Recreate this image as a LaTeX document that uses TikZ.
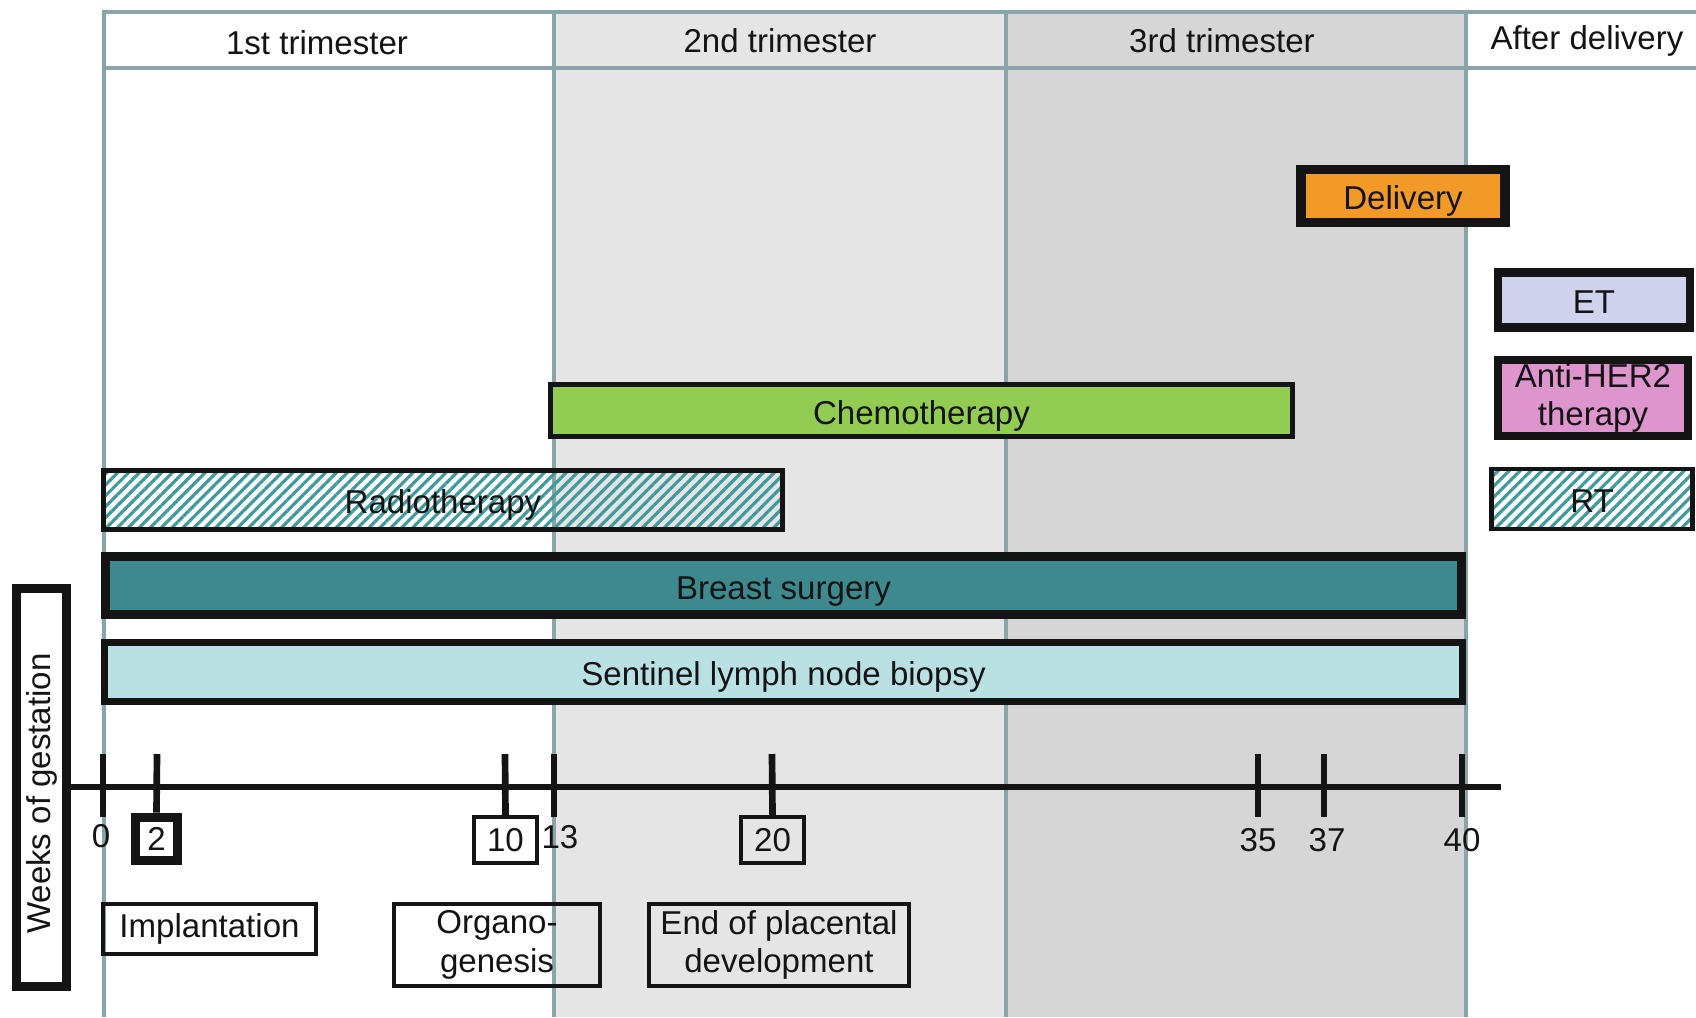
\documentclass[tikz,border=0pt]{standalone}
\usepackage{fontspec}
\setmainfont{Liberation Sans}
\usepackage{xcolor}
\usetikzlibrary{patterns.meta}

\definecolor{frame}{HTML}{8AA5A8}
\definecolor{trim2}{HTML}{E5E5E5}
\definecolor{trim3}{HTML}{D6D6D6}
\definecolor{delivery}{HTML}{F29A27}
\definecolor{etcol}{HTML}{CFD3EE}
\definecolor{her2}{HTML}{DE95CD}
\definecolor{chemo}{HTML}{93CC52}
\definecolor{surgery}{HTML}{3D898E}
\definecolor{slnb}{HTML}{B9E0E3}
\definecolor{hatch}{HTML}{3F9A9E}
\definecolor{boxline}{HTML}{141414}

\begin{document}
\begin{tikzpicture}[x=0.01cm, y=-0.01cm,
    every node/.style={font=\fontsize{9.4}{11}\selectfont, text=black!92},
    bar/.style={draw=boxline, inner sep=0pt, align=center},
    oneline/.style={text height=8.9pt, text depth=1pt},
    hatched/.style={bar, oneline, pattern={Lines[angle=45,distance=2.2pt,line width=0.9pt]}, pattern color=hatch},
    framed/.style={frame, line width=1.1pt},
    tick/.style={draw=boxline, line width=1.9pt}]
    \useasboundingbox (0,0) rectangle (1696,1017);

    % Trimester columns
    \fill[trim2] (554,12) rectangle (1006,1017);
    \fill[trim3] (1006,12) rectangle (1466,1017);
    \draw[framed] (104,1017) -- (104,12) -- (1696,12);
    \draw[framed] (104,68) -- (1696,68);
    \foreach \x in {554,1006,1466}
        \draw[framed] (\x,12) -- (\x,1017);

    % Header
    \node (tri1) at (317,43) {1st trimester};
    \node (tri2) at (780,41) {2nd trimester};
    \node (tri3) at (1222,41) {3rd trimester};
    \node (after) at (1587,41) {After delivery};

    % Delivery
    \node[bar, oneline, fill=delivery, line width=2.8pt, minimum width=2.04cm, minimum height=0.53cm] (delivery) at (1403,196) {Delivery};

    % After delivery treatments
    \node[bar, oneline, fill=etcol, line width=2.3pt, minimum width=1.92cm, minimum height=0.55cm] (et) at (1594,300) {ET};
    \node[bar, fill=her2, line width=2.3pt, minimum width=1.90cm, minimum height=0.76cm] (her2) at (1593,398) {Anti-HER2\\therapy};
    \node[hatched, line width=1.4pt, minimum width=2.00cm, minimum height=0.60cm] (rt) at (1592,499) {RT};

    % Treatments during pregnancy
    \node[bar, oneline, fill=chemo, line width=1.4pt, minimum width=7.42cm, minimum height=0.52cm] (chemo) at (921.5,410.5) {Chemotherapy};
    \node[hatched, line width=1.4pt, minimum width=6.79cm, minimum height=0.59cm] (radio) at (443,500) {Radiotherapy};
    \node[bar, oneline, fill=surgery, line width=2.6pt, minimum width=13.56cm, minimum height=0.58cm] (surgery) at (783.5,585.5) {Breast surgery};
    \node[bar, oneline, fill=slnb, line width=2pt, minimum width=13.58cm, minimum height=0.59cm] (slnb) at (783.5,672) {Sentinel lymph node biopsy};

    % Weeks axis
    \node[bar, rotate=90, line width=2.4pt, minimum width=3.98cm, minimum height=0.50cm] (weeks) at (41.5,787.5) {\hspace{-3.5pt}Weeks of gestation};
    \coordinate (axisL) at (67,787);
    \coordinate (axisR) at (1501,787);
    \draw[tick] (axisL) -- (axisR);

    \foreach \x/\wk in {103/0, 554/13, 1258/35, 1324/37, 1462/40}
        \draw[tick] (\x,754) -- (\x,817);
    \node (wk0) at (101,836) {0};
    \node (wk13) at (560,837) {13};
    \node (wk35) at (1258,840) {35};
    \node (wk37) at (1327,840) {37};
    \node (wk40) at (1462,840) {40};

    % Milestone weeks
    \node[bar, line width=2.8pt, minimum width=0.42cm, minimum height=0.43cm] (wk2) at (156.5,839) {2};
    \node[bar, line width=1.2pt, minimum width=0.63cm, minimum height=0.46cm] (wk10) at (505.5,840) {10};
    \node[bar, line width=1.2pt, minimum width=0.63cm, minimum height=0.46cm] (wk20) at (772.5,840) {20};
    \draw[tick] (157,754) -- (wk2.north);
    \draw[tick] (505,754) -- (wk10.north);
    \draw[tick] (772,754) -- (wk20.north);

    % Milestones
    \node[bar, line width=1.2pt, minimum width=2.13cm, minimum height=0.50cm] (implant) at (209.5,929) {Implantation};
    \node[bar, line width=1.2pt, minimum width=2.06cm, minimum height=0.82cm] (organo) at (497,945) {Organo-\\genesis};
    \node[bar, line width=1.2pt, minimum width=2.60cm, minimum height=0.82cm] (placenta) at (779,945) {End of placental\\development};
\end{tikzpicture}
\end{document}
